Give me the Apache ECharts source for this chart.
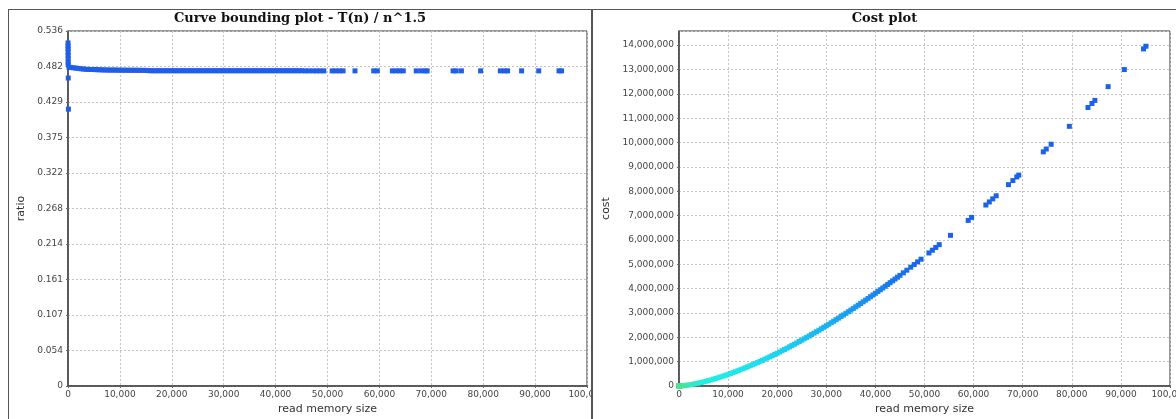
<!DOCTYPE html>
<html>
<head>
<meta charset="utf-8">
<script src="https://cdn.jsdelivr.net/npm/echarts@6/dist/echarts.min.js"></script>
<style>
  html, body { margin: 0; padding: 0; background: #fff; }
  body { width: 1176px; height: 419px; position: relative; overflow: hidden; }
  .frame { position: absolute; box-sizing: border-box; border-color: #555; border-style: solid; }
  .chart { position: absolute; overflow: hidden; }
</style>
</head>
<body>
<div class="frame" style="left:8px;top:9px;width:584px;height:420px;border-width:1px 1px 0 1px;"></div>
<div class="frame" style="left:592px;top:9px;width:590px;height:420px;border-width:1px 0 0 1px;"></div>
<div id="ratioChart" class="chart" style="left:9px;top:10px;width:582px;height:409px;"></div>
<div id="costChart" class="chart" style="left:593px;top:10px;width:583px;height:409px;"></div>
<script>
// read memory size of each sample
const memSize = [
  10, 12, 15, 20, 25, 30, 35, 40, 50, 80, 200, 500, 1000, 1500, 2000, 2500, 3000, 3500,
  4000, 4500, 5000, 5500, 6000, 6500, 7000, 7500, 8000, 8500, 9000, 9500,
  10000, 10500, 11000, 11500, 12000, 12500, 13000, 13500, 14000, 14500, 15000, 15500,
  16000, 16500, 17000, 17500, 18000, 18500, 19000, 19500, 20000, 20500, 21000, 21500,
  22000, 22500, 23000, 23500, 24000, 24500, 25000, 25500, 26000, 26500, 27000, 27500,
  28000, 28500, 29000, 29500, 30000, 30500, 31000, 31500, 32000, 32500, 33000, 33500,
  34000, 34500, 35000, 35500, 36000, 36500, 37000, 37500, 38000, 38500, 39000, 39500,
  40000, 40500, 41000, 41500, 42000, 42500, 43000, 43500, 44000, 44500, 45000,
  45700, 46400, 47200, 47900, 48600, 49300, 50900, 51600, 52300, 53000, 55300,
  58900, 59600, 62500, 63200, 63900, 64600, 67100, 68000, 68800, 69200,
  74200, 74800, 75800, 79500, 83300, 84100, 84700, 87400, 90700, 94600, 95100
];

// T(n) / n^1.5 for each sample
const ratio = [
  0.518, 0.513, 0.509, 0.504, 0.499, 0.494, 0.489, 0.485, 0.465, 0.418,
  0.481, 0.481, 0.4805, 0.480, 0.4795, 0.479, 0.4785, 0.4782,
  0.478, 0.4779, 0.4778, 0.4776, 0.4775, 0.4773, 0.4772, 0.4771, 0.477, 0.477, 0.477, 0.4769,
  0.4768, 0.4768, 0.4768, 0.4767, 0.4767, 0.4767, 0.4767, 0.4766, 0.4766, 0.4765, 0.4765, 0.4762,
  0.476, 0.476, 0.476, 0.476, 0.476, 0.476, 0.476, 0.476, 0.476, 0.476, 0.476, 0.476,
  0.476, 0.476, 0.476, 0.476, 0.476, 0.476, 0.476, 0.476, 0.476, 0.476, 0.476, 0.476,
  0.476, 0.476, 0.476, 0.476, 0.476, 0.476, 0.476, 0.476, 0.476, 0.476, 0.476, 0.476,
  0.476, 0.476, 0.476, 0.476, 0.476, 0.476, 0.476, 0.476, 0.476, 0.476, 0.476, 0.476,
  0.476, 0.476, 0.476, 0.476, 0.476, 0.476, 0.476, 0.476, 0.476, 0.476, 0.476,
  0.4758, 0.4758, 0.4758, 0.4758, 0.4758, 0.4758, 0.4758, 0.4758, 0.4758, 0.4758, 0.4758,
  0.4758, 0.4758, 0.4758, 0.4758, 0.4758, 0.4758, 0.4758, 0.4758, 0.4758, 0.4758,
  0.4758, 0.4758, 0.4758, 0.4758, 0.4758, 0.4758, 0.4758, 0.4758, 0.4758, 0.4758, 0.4758
];

// total cost T(n) for each sample
const cost = [
  16, 21, 30, 45, 62, 81, 101, 122, 166, 304,
  1360, 5378, 15195, 27886, 42888, 59875, 78626, 99018,
  120925, 144263, 168928, 194806, 221922, 250128, 279478, 309885, 341314, 373806, 407270, 441583,
  476800, 513003, 550080, 587887, 626640, 666208, 706578, 747561, 789489, 831984, 875386, 918944,
  963356, 1008860, 1055068, 1101955, 1149518, 1197757, 1246629, 1296174, 1346331, 1397140, 1448558, 1500595,
  1553248, 1606500, 1660347, 1714783, 1769798, 1825391, 1881555, 1938299, 1995570, 2053430, 2111799, 2170695,
  2230201, 2290229, 2350736, 2411820, 2473368, 2535458, 2598062, 2661164, 2724783, 2788974, 2853500, 2918575,
  2984182, 3050284, 3116800, 3183950, 3251328, 3319277, 3387736, 3456702, 3526000, 3595790, 3666096, 3736833,
  3808000, 3879686, 3951689, 4024190, 4097141, 4170650, 4244335, 4318624, 4393251, 4468402, 4543868,
  4648000, 4756000, 4879000, 4988000, 5098000, 5208000, 5464000, 5577000, 5691000, 5805000, 6187000,
  6801000, 6923000, 7434000, 7560000, 7686000, 7812000, 8270000, 8437000, 8587000, 8662000,
  9617000, 9733000, 9929000, 10665000, 11439000, 11604000, 11729000, 12294000, 12997000, 13844000, 13954000
];

// y tick labels of the ratio plot
const ratioTicks = ['0', '0.054', '0.107', '0.161', '0.214', '0.268', '0.322', '0.375', '0.429', '0.482', '0.536'];

const ratioPoints = memSize.map((n, i) => [n, ratio[i]]);
const costPoints = memSize.map((n, i) => [n, cost[i]]);

const FONT = 'DejaVu Sans';
const commas = v => Math.round(v).toLocaleString('en-US');

function baseXAxis() {
  return {
    type: 'value', min: 0, max: 100000, interval: 10000,
    name: 'read memory size', nameLocation: 'middle', nameGap: 17,
    nameTextStyle: { fontFamily: FONT, fontSize: 11, color: '#333' },
    axisLine: { lineStyle: { color: '#444', width: 1.5 } },
    axisTick: { show: true, length: 2, lineStyle: { color: '#666' } },
    axisLabel: { fontFamily: FONT, fontSize: 9, color: '#444', margin: 4, formatter: commas },
    splitLine: { show: true, lineStyle: { color: '#c4c4c4', type: [2, 2], width: 1 } }
  };
}

function baseYAxis(name, gap) {
  return {
    type: 'value', min: 0,
    name: name, nameLocation: 'middle', nameGap: gap, nameRotate: 90,
    nameTextStyle: { fontFamily: FONT, fontSize: 11, color: '#333' },
    axisLine: { show: true, lineStyle: { color: '#444', width: 1.5 } },
    axisTick: { show: true, length: 2, lineStyle: { color: '#666' } },
    axisLabel: { fontFamily: FONT, fontSize: 9, color: '#444', margin: 5 },
    splitLine: { show: true, lineStyle: { color: '#c4c4c4', type: [2, 2], width: 1 } }
  };
}

const titleStyle = { fontFamily: 'DejaVu Serif', fontWeight: 'bold', fontSize: 13, color: '#111' };

// ratio plot
const ratioChart = echarts.init(document.getElementById('ratioChart'), null, { renderer: 'canvas' });
const ratioY = baseYAxis('ratio', 31);
ratioY.max = 0.536;
ratioY.interval = 0.0536;
ratioY.axisLabel.formatter = (v) => ratioTicks[Math.round(v / 0.0536)];
ratioChart.setOption({
  animation: false,
  title: { text: 'Curve bounding plot - T(n) / n^1.5', left: 'center', top: 2, padding: 0, textStyle: titleStyle },
  grid: {
    left: 59, top: 21, right: 4, bottom: 33, outerBoundsMode: 'none', containLabel: false,
    show: true, borderColor: '#333', borderWidth: 1, backgroundColor: '#fff'
  },
  xAxis: baseXAxis(),
  yAxis: ratioY,
  series: [{
    type: 'scatter', symbol: 'rect', symbolSize: 5,
    itemStyle: { color: '#1f5fe8', opacity: 1 },
    data: ratioPoints
  }]
});

// cost plot, coloured along the read memory size
const costChart = echarts.init(document.getElementById('costChart'), null, { renderer: 'canvas' });
const costY = baseYAxis('cost', 57);
costY.max = 14580000;
costY.interval = 1000000;
costY.axisLabel.formatter = commas;
costY.axisLabel.showMaxLabel = false;
costChart.setOption({
  animation: false,
  title: { text: 'Cost plot', left: 'center', top: 2, padding: 0, textStyle: titleStyle },
  grid: {
    left: 86, top: 21, right: 6, bottom: 33, outerBoundsMode: 'none', containLabel: false,
    show: true, borderColor: '#333', borderWidth: 1, backgroundColor: '#fff'
  },
  xAxis: baseXAxis(),
  yAxis: costY,
  visualMap: {
    show: false, type: 'continuous', dimension: 0, min: 0, max: 50000,
    inRange: {
      color: ['#4ee08c', '#22eee4', '#22e8e8', '#20e0ec', '#1ed4ee', '#1cc4f0',
              '#1ab2f0', '#1a9cf0', '#1a86ee', '#1a72ea', '#1a62e8']
    }
  },
  series: [{
    type: 'scatter', symbol: 'rect', symbolSize: 5,
    itemStyle: { opacity: 1 },
    data: costPoints
  }]
});
</script>
</body>
</html>
